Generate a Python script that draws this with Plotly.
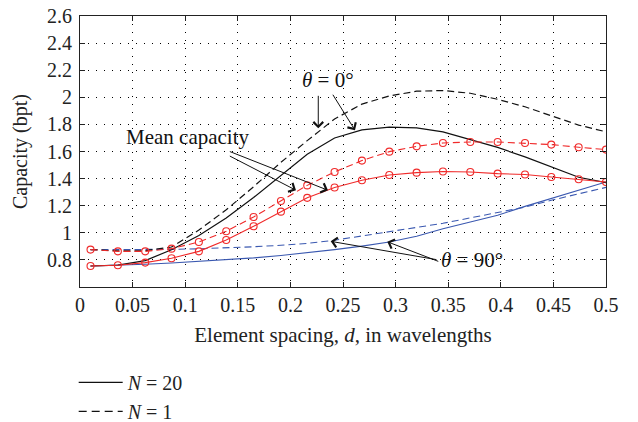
import plotly.graph_objects as go

# ---- data ----
d = [0.010, 0.036, 0.062, 0.087, 0.113, 0.139, 0.165, 0.191, 0.216, 0.242,
     0.268, 0.294, 0.320, 0.345, 0.371, 0.397, 0.423, 0.448, 0.474, 0.500]

cap_n20_theta0 = [0.755, 0.762, 0.795, 0.875, 0.98, 1.11, 1.26, 1.42, 1.58, 1.70,
                  1.76, 1.78, 1.775, 1.745, 1.69, 1.63, 1.56, 1.485, 1.41, 1.37]
cap_n1_theta0 = [0.876, 0.866, 0.868, 0.895, 1.02, 1.17, 1.34, 1.52, 1.68, 1.84,
                 1.95, 2.01, 2.045, 2.05, 2.03, 1.985, 1.93, 1.865, 1.795, 1.745]
cap_n20_mean = [0.755, 0.76, 0.78, 0.812, 0.863, 0.947, 1.048, 1.156, 1.258, 1.334,
                1.388, 1.427, 1.444, 1.452, 1.449, 1.437, 1.43, 1.412, 1.395, 1.375]
cap_n1_mean = [0.876, 0.863, 0.863, 0.883, 0.932, 1.011, 1.117, 1.235, 1.35, 1.449,
               1.533, 1.599, 1.638, 1.663, 1.67, 1.67, 1.663, 1.651, 1.631, 1.614]
cap_n20_theta90 = [0.755, 0.760, 0.768, 0.777, 0.788, 0.800, 0.815, 0.833, 0.852, 0.876,
                   0.902, 0.932, 0.975, 1.03, 1.08, 1.13, 1.195, 1.255, 1.315, 1.375]
cap_n1_theta90 = [0.876, 0.875, 0.876, 0.878, 0.882, 0.888, 0.897, 0.908, 0.922, 0.945,
                  0.975, 1.005, 1.04, 1.07, 1.11, 1.155, 1.19, 1.24, 1.29, 1.335]

x_tick_vals = [0, 0.05, 0.1, 0.15, 0.2, 0.25, 0.3, 0.35, 0.4, 0.45, 0.5]
x_tick_text = ["0", "0.05", "0.1", "0.15", "0.2", "0.25", "0.3", "0.35", "0.4", "0.45", "0.5"]
y_tick_vals = [0.8, 1.0, 1.2, 1.4, 1.6, 1.8, 2.0, 2.2, 2.4, 2.6]
y_tick_text = ["0.8", "1", "1.2", "1.4", "1.6", "1.8", "2", "2.2", "2.4", "2.6"]

legend_names = ["<i>N</i> = 20", "<i>N</i> = 1"]

FONT = "Liberation Serif"
BLACK = "#111111"
RED = "#f02a2a"
BLUE = "#3a58b0"
DASH = "7px,4px"

fig = go.Figure()

fig.add_trace(go.Scatter(x=d, y=cap_n20_theta90, mode="lines",
                         line=dict(color=BLUE, width=1.1), showlegend=False))
fig.add_trace(go.Scatter(x=d, y=cap_n1_theta90, mode="lines",
                         line=dict(color=BLUE, width=1.1, dash=DASH), showlegend=False))
fig.add_trace(go.Scatter(x=d, y=cap_n20_theta0, mode="lines",
                         line=dict(color=BLACK, width=1.2), showlegend=False))
fig.add_trace(go.Scatter(x=d, y=cap_n1_theta0, mode="lines",
                         line=dict(color=BLACK, width=1.2, dash=DASH), showlegend=False))
fig.add_trace(go.Scatter(x=d, y=cap_n20_mean, mode="lines+markers",
                         line=dict(color=RED, width=1.1),
                         marker=dict(symbol="circle-open", size=7, color=RED, line=dict(width=1.1)),
                         showlegend=False))
fig.add_trace(go.Scatter(x=d, y=cap_n1_mean, mode="lines+markers",
                         line=dict(color=RED, width=1.1, dash=DASH),
                         marker=dict(symbol="circle-open", size=7, color=RED, line=dict(width=1.1)),
                         showlegend=False))

# legend-only entries
fig.add_trace(go.Scatter(x=[None], y=[None], mode="lines", name=legend_names[0],
                         line=dict(color=BLACK, width=1.2)))
fig.add_trace(go.Scatter(x=[None], y=[None], mode="lines", name=legend_names[1],
                         line=dict(color=BLACK, width=1.2, dash="8px,5px")))

def arrow(x, y, ax, ay):
    return dict(x=x, y=y, ax=ax, ay=ay, xref="x", yref="y", axref="x", ayref="y",
                text="", showarrow=True, arrowhead=4, arrowsize=1.9, arrowwidth=1,
                arrowcolor=BLACK, standoff=0, startstandoff=0)

annotations = [
    dict(x=0.2357, y=2.125, xref="x", yref="y", text="<i>θ</i> = 0°", showarrow=False,
         font=dict(family=FONT, size=21, color=BLACK)),
    arrow(0.2265, 1.771, 0.2265, 2.022),
    arrow(0.2614, 1.757, 0.2395, 2.03),
    dict(x=0.1025, y=1.705, xref="x", yref="y", text="Mean capacity", showarrow=False,
         font=dict(family=FONT, size=21, color=BLACK)),
    arrow(0.2357, 1.314, 0.141, 1.604),
    arrow(0.2053, 1.314, 0.141, 1.572),
    dict(x=0.3725, y=0.797, xref="x", yref="y", text="<i>θ</i> = 90°", showarrow=False,
         font=dict(family=FONT, size=21, color=BLACK)),
    arrow(0.2383, 0.937, 0.3403, 0.80),
    arrow(0.2921, 0.934, 0.342, 0.785),
]

axis_common = dict(
    showline=True, linecolor="#222222", linewidth=1, mirror="ticks",
    ticks="inside", ticklen=5, tickcolor="#222222", tickwidth=1,
    showgrid=True, gridcolor="#000000", gridwidth=1, griddash="1px,7px",
    zeroline=False, automargin=False,
    tickfont=dict(family=FONT, size=20, color="#222222"),
)

fig.update_layout(
    width=638, height=422,
    margin=dict(l=80, r=32, t=16, b=135, autoexpand=False),
    paper_bgcolor="white", plot_bgcolor="white",
    font=dict(family=FONT, color="#222222"),
    xaxis=dict(range=[0, 0.5], tickvals=x_tick_vals, ticktext=x_tick_text,
               title=dict(text="Element spacing, <i>d</i>, in wavelengths",
                          font=dict(family=FONT, size=21), standoff=12),
               **axis_common),
    yaxis=dict(range=[0.6, 2.6], tickvals=y_tick_vals, ticktext=y_tick_text,
               ticklabelstandoff=3,
               title=dict(text="Capacity (bpt)", font=dict(family=FONT, size=20), standoff=14),
               **axis_common),
    legend=dict(x=-0.012, y=-0.28, xanchor="left", yanchor="top",
                font=dict(family=FONT, size=20, color="#222222"),
                itemwidth=44,
                bgcolor="rgba(0,0,0,0)", tracegroupgap=0),
    annotations=annotations,
)

fig.write_html("out.html", config={"displayModeBar": False},
               post_script="document.body.style.margin='0';")
